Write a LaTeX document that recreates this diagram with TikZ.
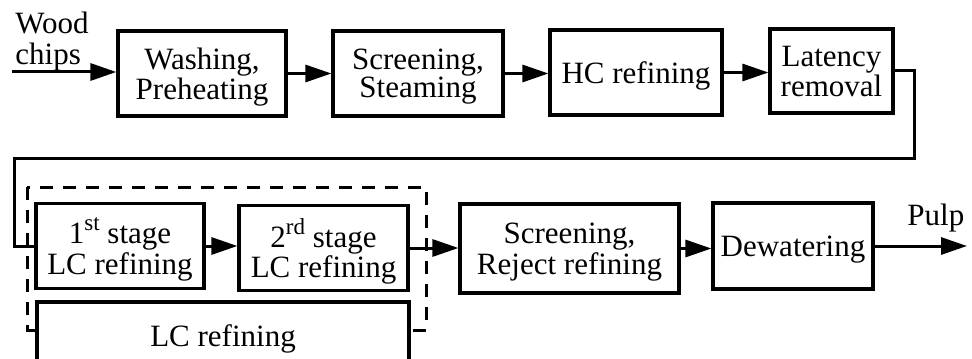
\documentclass[tikz,border=0pt]{standalone}
\usepackage{fontspec}
\setmainfont{Liberation Serif}
\usetikzlibrary{arrows.meta}
\usetikzlibrary{calc}
\newcommand{\ordsup}[1]{\raisebox{0.42em}{\fontsize{11.5pt}{11.5pt}\selectfont #1}}

\begin{document}
\begin{tikzpicture}[x=0.5pt,y=-0.5pt,
		box/.style={draw, line width=1.6pt, fill=white, align=center, inner sep=0pt,
			text depth=0pt, font=\fontsize{15.5pt}{14pt}\selectfont},
		arr/.style={line width=1.5pt, -{Triangle[length=13pt,width=8.5pt]}},
		lnk/.style={line width=1.5pt}]
		\useasboundingbox (0,0) rectangle (972,358);
		\clip (0,0) rectangle (972,358);
		% dashed frame round the two LC stages
		\draw[line width=1.5pt, dash pattern=on 6.5pt off 5pt] (27,187) rectangle (426,330);
		\path 	(202,73.5)	node[box, minimum width=84pt, minimum height=42.5pt] (a) {Washing,\\Preheating}
			(418,73.5)	node[box, minimum width=85pt, minimum height=42.5pt] (b) {Screening,\\Steaming}
			(636,72.5)	node[box, minimum width=86pt, minimum height=42.5pt] (c) {HC refining}
			(831.5,71)	node[box, minimum width=61.5pt, minimum height=42pt] (d) {Latency\\removal}
			(120,246)	node[box, minimum width=84pt, minimum height=42.5pt] (e) {1\ordsup{st} stage\\LC refining}
			(323.5,248)	node[box, minimum width=84.5pt, minimum height=42.5pt] (f) {2\ordsup{rd} stage\\LC refining}
			(569.5,248.5)	node[box, minimum width=109.5pt, minimum height=44.5pt] (g) {Screening,\\Reject refining}
			(793,246)	node[box, minimum width=80pt, minimum height=43pt] (h) {Dewatering}
			(223,336)	node[box, minimum width=186pt, minimum height=34pt] (i) {LC refining};
		\node[anchor=north west, inner sep=0pt, align=left,
			font=\fontsize{15.5pt}{15.5pt}\selectfont] (w) at (15,12) {Wood\\chips};
		\node[anchor=base west, inner sep=0pt, font=\fontsize{15.5pt}{14pt}\selectfont] (p) at (907,225) {Pulp};
		\coordinate (in) at (12,72);
		\coordinate (out) at (967,246);
		\coordinate (r) at (914,158);
		\coordinate (l) at (14,158);
		\draw[arr] (in) -- (in -| a.west);
		\draw[arr] (a.east) -- (a.east -| b.west);
		\draw[arr] (b.east) -- (b.east -| c.west);
		\draw[arr] (c.east) -- (c.east -| d.west);
		\draw[lnk] (d.east) -| (r) -- (l) |- (e.west);
		\draw[arr] (e.east) -- (e.east -| f.west);
		\draw[arr] (f.east) -- (f.east -| g.west);
		\draw[arr] (g.east) -- (g.east -| h.west);
		\draw[arr] (h.east) -- (out);
	\end{tikzpicture}
\end{document}
